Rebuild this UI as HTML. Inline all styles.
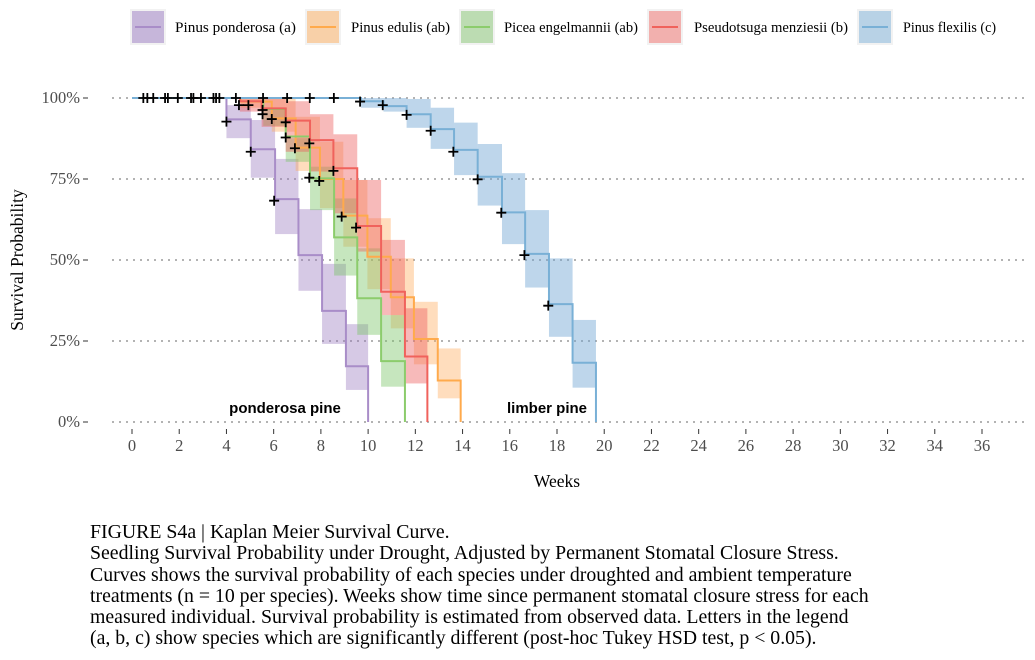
<!DOCTYPE html>
<html><head><meta charset="utf-8">
<style>
body{margin:0;background:#fff;width:1035px;height:660px;overflow:hidden;font-family:"Liberation Serif",serif}
#cap{position:absolute;left:90px;top:522px;font-size:19.5px;line-height:21.3px;color:#000;width:900px;white-space:nowrap;transform:scaleX(1.015);transform-origin:0 0}
</style></head><body>
<svg id="chart" width="1035" height="520" style="position:absolute;left:0;top:0" font-family="Liberation Serif, serif"></svg>
<div id="cap">FIGURE S4a | Kaplan Meier Survival Curve.<br>Seedling Survival Probability under Drought, Adjusted by Permanent Stomatal Closure Stress.<br>Curves shows the survival probability of each species under droughted and ambient temperature<br>treatments (n = 10 per species). Weeks show time since permanent stomatal closure stress for each<br>measured individual. Survival probability is estimated from observed data. Letters in the legend<br>(a, b, c) show species which are significantly different (post-hoc Tukey HSD test, p &lt; 0.05).</div>
<script>
const xTicks=[0,2,4,6,8,10,12,14,16,18,20,22,24,26,28,30,32,34,36];
const yTicks=[0,0.25,0.5,0.75,1];
const yTickLabels=["0%","25%","50%","75%","100%"];
const speciesNames=["Pinus ponderosa (a)","Pinus edulis (ab)","Picea engelmannii (ab)","Pseudotsuga menziesii (b)","Pinus flexilis (c)"];
const ponTimes=[4.0,5.03,6.06,7.05,8.05,9.06,10.0];
const ponSurv=[0.934,0.842,0.688,0.515,0.343,0.172,0];
const ponLower=[0.876,0.754,0.58,0.405,0.241,0.099];
const ponUpper=[0.978,0.932,0.812,0.657,0.488,0.302];
const eduTimes=[4.6,5.92,6.93,7.96,8.95,9.97,10.96,11.94,12.95,13.92];
const eduSurv=[0.989,0.937,0.847,0.75,0.637,0.51,0.385,0.256,0.128,0];
const eduLower=[0.97,0.896,0.775,0.66,0.541,0.41,0.289,0.178,0.073];
const eduUpper=[1.0,1.0,0.942,0.865,0.747,0.629,0.505,0.371,0.227];
const engTimes=[5.56,6.51,7.54,8.56,9.54,10.55,11.56];
const engSurv=[0.966,0.881,0.752,0.57,0.382,0.188,0];
const engLower=[0.914,0.803,0.654,0.452,0.269,0.109];
const engUpper=[0.968,0.876,0.788,0.69,0.536,0.33];
const menTimes=[4.57,5.49,6.51,7.54,8.53,9.54,10.55,11.56,12.51];
const menSurv=[0.99,0.968,0.93,0.87,0.783,0.605,0.402,0.202,0];
const menLower=[0.958,0.911,0.834,0.773,0.644,0.526,0.33,0.119];
const menUpper=[1.0,0.998,0.99,0.95,0.888,0.747,0.562,0.351];
const flxTimes=[9.7,10.65,11.63,12.65,13.64,14.64,15.67,16.65,17.66,18.66,19.65];
const flxSurv=[0.99,0.975,0.95,0.904,0.84,0.757,0.647,0.519,0.364,0.183,0];
const flxLower=[0.97,0.958,0.908,0.843,0.762,0.668,0.549,0.415,0.263,0.106];
const flxUpper=[1.0,1.0,0.997,0.97,0.924,0.858,0.768,0.654,0.505,0.315];
const censorWeeks=[0.48,0.65,0.9,1.4,1.52,1.94,2.5,2.6,2.92,3.45,3.56,3.7,4.4,5.55,6.57,7.53,8.55,4.0,5.03,6.02,4.53,4.93,5.53,5.53,5.92,6.51,6.51,6.9,7.51,7.51,7.93,8.53,8.88,9.49,9.66,10.62,11.63,12.65,13.61,14.64,15.64,16.62,17.63];
const censorSurv=[1,1,1,1,1,1,1,1,1,1,1,1,1,1,1,1,1,0.927,0.834,0.683,0.978,0.978,0.963,0.95,0.935,0.925,0.878,0.845,0.86,0.754,0.744,0.775,0.634,0.6,0.989,0.978,0.948,0.899,0.834,0.749,0.646,0.515,0.359];

const NS="http://www.w3.org/2000/svg";
const svg=document.getElementById('chart');
const X=w=>132+w*(850/36);
const Y=s=>422-s*324;
function mk(tag,attrs,parent){const e=document.createElementNS(NS,tag);for(const k in attrs)e.setAttribute(k,attrs[k]);(parent||svg).appendChild(e);return e;}

yTicks.forEach((t,i)=>{
  const g=mk('line',{x1:112,x2:1025,y1:Y(t),y2:Y(t),stroke:'#b3b3b3','stroke-width':2,'stroke-dasharray':'2,5'});
  
  
  const tx=mk('text',{x:80,y:Y(t)+5,'text-anchor':'end','font-size':16.5,fill:'#4d4d4d'});
  tx.textContent=yTickLabels[i];
  
  
  const tk=mk('line',{x1:83,x2:88,y1:Y(t),y2:Y(t),stroke:'#333'});
  
  
});
xTicks.forEach(t=>{
  const tk=mk('line',{x1:X(t),x2:X(t),y1:429,y2:434,stroke:'#333'});
  
  
  const tx=mk('text',{x:X(t),y:451,'text-anchor':'middle','font-size':16.5,fill:'#4d4d4d'});
  tx.textContent=t;
  
  
});
const xt=mk('text',{x:557,y:487,'text-anchor':'middle','font-size':17.5});
xt.textContent='Weeks';


const yt=mk('text',{x:23,y:260,'text-anchor':'middle','font-size':17.5,transform:'rotate(-90 23 260)'});
yt.textContent='Survival Probability';



const series=[
 {t:ponTimes,s:ponSurv,lo:ponLower,hi:ponUpper,line:'#a98dc8',band:'rgba(152,120,190,0.4)',key:'#c6b6da'},
 {t:eduTimes,s:eduSurv,lo:eduLower,hi:eduUpper,line:'#ffaa4c',band:'rgba(255,170,90,0.4)',key:'#f8d0a8'},
 {t:engTimes,s:engSurv,lo:engLower,hi:engUpper,line:'#8ccc6c',band:'rgba(120,195,100,0.42)',key:'#bcdcb2'},
 {t:menTimes,s:menSurv,lo:menLower,hi:menUpper,line:'#f0625c',band:'rgba(236,90,90,0.42)',key:'#f2b0ae'},
 {t:flxTimes,s:flxSurv,lo:flxLower,hi:flxUpper,line:'#79b0d6',band:'rgba(110,165,210,0.45)',key:'#b8d2e6'}
];
const slugs=['ponderosa','edulis','engelmannii','menziesii','flexilis'];
series.forEach((sr,k)=>{
  for(let i=0;i<sr.lo.length;i++){
    const r=mk('rect',{x:X(sr.t[i]),y:Y(sr.hi[i]),width:X(sr.t[i+1])-X(sr.t[i]),height:Y(sr.lo[i])-Y(sr.hi[i]),fill:sr.band});
    
    
  }
});
series.forEach((sr,k)=>{
  let d='M'+X(0)+','+Y(1);
  sr.t.forEach((t,i)=>{d+=' H'+X(t)+' V'+Y(sr.s[i]);});
  const p=mk('path',{d:d,fill:'none',stroke:sr.line,'stroke-width':2});
  
  
});
censorWeeks.forEach((w,i)=>{
  const cx=X(w),cy=Y(censorSurv[i]);
  const c=mk('path',{d:`M${cx-5},${cy}H${cx+5}M${cx},${cy-5}V${cy+5}`,stroke:'#000','stroke-width':1.8});
  
  
});
const a1=mk('text',{x:285,y:413,'text-anchor':'middle','font-size':15,'font-weight':'bold','font-family':'Liberation Sans, sans-serif'});
a1.textContent='ponderosa pine';


const a2=mk('text',{x:547,y:413,'text-anchor':'middle','font-size':15,'font-weight':'bold','font-family':'Liberation Sans, sans-serif'});
a2.textContent='limber pine';


const legX=[132,307,461,649,859];
const legTextX=[175,351,504,694,903];
const legTextW=[121,99,134,154,93];
series.forEach((sr,k)=>{
  const g=mk('g',{});
  
  
  mk('rect',{x:legX[k]-2,y:9,width:36,height:36,fill:'#f2f2f2'},g);
  mk('rect',{x:legX[k],y:11,width:32,height:32,fill:sr.key},g);
  mk('line',{x1:legX[k]+3,x2:legX[k]+29,y1:27,y2:27,stroke:sr.line,'stroke-width':2},g);
  const tx=mk('text',{x:legTextX[k],y:32,'font-size':15,textLength:legTextW[k],lengthAdjust:'spacingAndGlyphs'},g);
  tx.textContent=speciesNames[k];
});
</script>
</body></html>
